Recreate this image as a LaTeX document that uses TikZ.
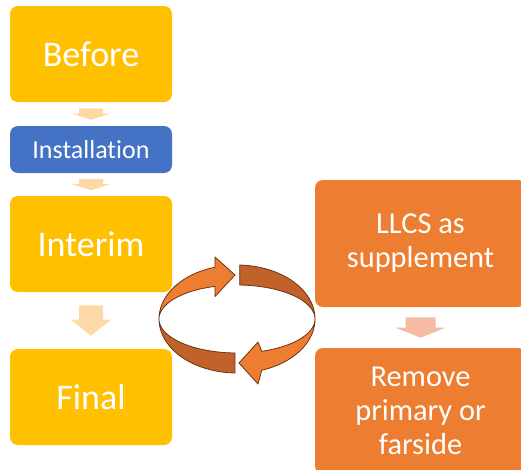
\documentclass[tikz,border=0pt]{standalone}
\usepackage{fontspec}
\setmainfont{Carlito}[Ligatures=CommonOff]
\usetikzlibrary{calc}
\definecolor{ygold}{HTML}{FFC000}
\definecolor{iblue}{HTML}{4472C4}
\definecolor{lorange}{HTML}{ED7D31}
\definecolor{dorange}{HTML}{C0622A}
\definecolor{rim}{HTML}{6B3410}
\definecolor{peach}{HTML}{FDD9A8}
\definecolor{salmon}{HTML}{F5BCA3}
% block arrow from node #1 down to node #2: gap, shaft half width, head half width, head length, colour
\newcommand\blkarrow[7]{%
  \fill[#7] ($(#1.south)+(-#4,#3)$) -- ($(#1.south)+(#4,#3)$)
   -- ($(#2.north)+(#4,-#3-#6)$) -- ($(#2.north)+(#5,-#3-#6)$)
   -- ($(#2.north)+(0,-#3)$) -- ($(#2.north)+(-#5,-#3-#6)$)
   -- ($(#2.north)+(-#4,-#3-#6)$) -- cycle;}
\begin{document}
\begin{tikzpicture}[x=0.75pt,y=-0.75pt,
  box/.style={rounded corners=6pt, inner sep=0pt, text=white, align=center},
  ybox/.style={box, fill=ygold, minimum width=121.5pt, minimum height=72pt,
    font=\fontsize{27}{32}\selectfont},
  bbox/.style={box, fill=iblue, minimum width=121.5pt, minimum height=35.25pt,
    font=\fontsize{19.5}{23}\selectfont},
  obox/.style={box, fill=lorange, minimum width=158.25pt,
    font=\fontsize{22.8}{25.5}\selectfont},
  ringlight/.style={fill=lorange, draw=rim, line width=0.6pt, line join=round},
  ringdark/.style={fill=dorange, draw=rim, line width=0.6pt, line join=round}]
\useasboundingbox (0,0) rectangle (521,469);
\clip (0,0) rectangle (521,469);

\node[ybox] (before) at (91,54) {Before};
\node[bbox] (install) at (91,149.5) {Installation};
\node[ybox] (interim) at (91,244) {Interim};
\node[ybox] (final) at (91,397) {Final};
\node[obox, minimum height=95.25pt] (llcs) at (420.5,243.5) {LLCS as\\supplement};
\node[obox, minimum height=94.5pt] (remove) at (420.5,411) {Remove\\primary or\\farside};

\blkarrow{before}{install}{6}{12}{19}{6}{peach}
\blkarrow{install}{interim}{5.5}{12}{19}{6}{peach}
\blkarrow{interim}{final}{13}{12}{20}{16}{peach}
\blkarrow{llcs}{remove}{10}{15}{25}{10}{salmon}

% circular arrows
\draw[ringdark] plot[domain=272:360, samples=40] ({237+78*cos(\x)},{319+54*sin(\x)})
  -- plot[domain=360:272, samples=40] ({237+78*cos(\x)},{319+34*sin(\x)}) -- cycle;
\draw[ringdark] plot[domain=180:91.5, samples=40] ({237+78*cos(\x)},{319+54*sin(\x)})
  -- plot[domain=91.5:180, samples=40] ({237+78*cos(\x)},{319+34*sin(\x)}) -- cycle;
\draw[ringlight] plot[domain=180:253.6, samples=40] ({237+78*cos(\x)},{319+54*sin(\x)})
  -- (215,257) -- (235,275) -- (215,296.5)
  -- plot[domain=253.6:180, samples=40] ({237+78*cos(\x)},{319+34*sin(\x)}) -- cycle;
\draw[ringlight] plot[domain=0:71.5, samples=40] ({237+78*cos(\x)},{319+54*sin(\x)})
  -- (258,384) -- (239,363) -- (258,342)
  -- plot[domain=71.5:0, samples=40] ({237+78*cos(\x)},{319+34*sin(\x)}) -- cycle;
\end{tikzpicture}
\end{document}
